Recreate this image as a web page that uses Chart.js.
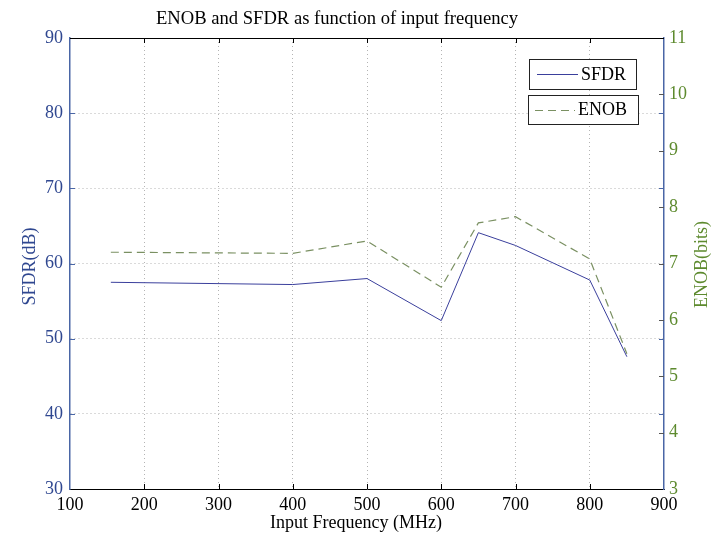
<!DOCTYPE html>
<html>
<head>
<meta charset="utf-8">
<script src="https://cdn.jsdelivr.net/npm/chart.js@4.4.0/dist/chart.umd.min.js"></script>
<style>
    html, body { margin: 0; padding: 0; background: #fff; }
    canvas { display: block; }
</style>
</head>
<body>
<canvas id="myChart" width="719" height="534"></canvas>
<script>
// values
const frequencies = [155, 400, 500, 600, 650, 700, 800, 850];
const sfdrValues = [57.5, 57.2, 58.0, 52.4, 64.1, 62.4, 57.8, 47.6];
const enobValues = [7.2, 7.18, 7.4, 6.58, 7.72, 7.83, 7.08, 5.4];

const freqTicks = [100, 200, 300, 400, 500, 600, 700, 800, 900];
const sfdrTicks = [30, 40, 50, 60, 70, 80, 90];
const enobTicks = [3, 4, 5, 6, 7, 8, 9, 10, 11];

const FONT = "'Liberation Serif', 'Times New Roman', serif";
const BLUE_AXIS = "#4a66a6";
const BLUE_TEXT = "#2f4790";
const GREEN_TEXT = "#5d8a2e";
const SFDR_COLOR = "#3a3f9c";
const ENOB_COLOR = "#7a9062";
const GRID_COLOR = "#b4b4b4";

const crisp = v => Math.round(v) + 0.5;

const framePlugin = {
    id: 'frame',
    afterDraw(chart) {
        const { ctx, chartArea: a, scales: { x, y, y1 } } = chart;
        const line = (x1, y1_, x2, y2) => {
            ctx.beginPath();
            ctx.moveTo(x1, y1_);
            ctx.lineTo(x2, y2);
            ctx.stroke();
        };
        ctx.save();
        ctx.lineWidth = 1;

        // top edge of the box
        ctx.strokeStyle = "#000";
        line(a.left, crisp(a.top), a.right, crisp(a.top));

        // inward ticks on x (bottom and top)
        freqTicks.slice(1, -1).forEach(v => {
            const px = crisp(x.getPixelForValue(v));
            line(px, a.bottom, px, a.bottom - 5);
            line(px, a.top, px, a.top + 5);
        });

        // left axis ticks, mirrored on the right side
        ctx.strokeStyle = BLUE_AXIS;
        sfdrTicks.slice(1, -1).forEach(v => {
            const py = crisp(y.getPixelForValue(v));
            line(a.left, py, a.left + 5, py);
            line(a.right, py, a.right - 5, py);
        });

        // right axis ticks
        ctx.strokeStyle = "#555";
        enobTicks.slice(1, -1).forEach(v => {
            const py = crisp(y1.getPixelForValue(v));
            line(a.right, py, a.right - 5, py);
        });

        // texts
        ctx.textAlign = "center";
        ctx.textBaseline = "middle";
        ctx.fillStyle = "#000";
        ctx.font = "18.6px " + FONT;
        ctx.fillText("ENOB and SFDR as function of input frequency", 337, 19);
        ctx.font = "18px " + FONT;
        ctx.fillText("Input Frequency (MHz)", 356, 523);

        ctx.save();
        ctx.translate(30, (a.top + a.bottom) / 2 + 3);
        ctx.rotate(-Math.PI / 2);
        ctx.fillStyle = BLUE_TEXT;
        ctx.fillText("SFDR(dB)", 0, 0);
        ctx.restore();

        ctx.save();
        ctx.translate(702, (a.top + a.bottom) / 2 + 1);
        ctx.rotate(-Math.PI / 2);
        ctx.fillStyle = GREEN_TEXT;
        ctx.fillText("ENOB(bits)", 0, 0);
        ctx.restore();

        // legend: two separate boxes
        const boxes = [
            { label: "SFDR", color: SFDR_COLOR, dash: [], left: a.right - 135, top: a.top + 21, w: 107, h: 30, lx: 8, lw: 41, tx: 52 },
            { label: "ENOB", color: ENOB_COLOR, dash: [8, 5], left: a.right - 136, top: a.top + 57, w: 110, h: 29, lx: 7, lw: 40, tx: 50 },
        ];
        boxes.forEach(b => {
            ctx.fillStyle = "#fff";
            ctx.fillRect(b.left, b.top, b.w, b.h);
            ctx.strokeStyle = "#222";
            ctx.setLineDash([]);
            ctx.strokeRect(crisp(b.left), crisp(b.top), b.w, b.h);
            const cy = crisp(b.top + b.h / 2);
            ctx.strokeStyle = b.color;
            ctx.setLineDash(b.dash);
            line(b.left + b.lx, cy, b.left + b.lx + b.lw, cy);
            ctx.setLineDash([]);
            ctx.fillStyle = "#000";
            ctx.textAlign = "left";
            ctx.fillText(b.label, b.left + b.tx, b.top + b.h / 2 + 1);
        });

        ctx.restore();
    }
};

const gridColor = edges => c => edges.includes(c.tick.value) ? "rgba(0,0,0,0)" : GRID_COLOR;

const ctx = document.getElementById("myChart").getContext("2d");

const config = {
    type: "line",
    data: {
        datasets: [
            {
                label: "SFDR",
                data: frequencies.map((f, i) => ({ x: f, y: sfdrValues[i] })),
                yAxisID: "y",
                borderColor: SFDR_COLOR,
                borderWidth: 1,
                pointRadius: 0,
                tension: 0,
            },
            {
                label: "ENOB",
                data: frequencies.map((f, i) => ({ x: f, y: enobValues[i] })),
                yAxisID: "y1",
                borderColor: ENOB_COLOR,
                borderWidth: 1.2,
                borderDash: [8, 5],
                pointRadius: 0,
                tension: 0,
            },
        ],
    },
    options: {
        responsive: false,
        animation: false,
        devicePixelRatio: 1,
        layout: { padding: { top: 38, left: 0, right: 0, bottom: 0 } },
        plugins: {
            legend: { display: false },
            title: { display: false },
            tooltip: { enabled: false },
        },
        scales: {
            x: {
                type: "linear",
                min: 100,
                max: 900,
                afterBuildTicks: s => { s.ticks = freqTicks.map(v => ({ value: v })); },
                afterFit: s => { s.height = 45; },
                ticks: {
                    padding: 5,
                    maxRotation: 0,
                    color: "#000",
                    font: { family: FONT, size: 18 },
                },
                grid: { color: gridColor([100, 900]), drawTicks: false, lineWidth: 1 },
                border: { color: "#000", width: 1, dash: [1, 3] },
            },
            y: {
                position: "left",
                min: 30,
                max: 90,
                afterBuildTicks: s => { s.ticks = sfdrTicks.map(v => ({ value: v })); },
                afterFit: s => { s.width = 70; },
                ticks: {
                    padding: 7,
                    color: BLUE_TEXT,
                    font: { family: FONT, size: 18 },
                },
                grid: { color: gridColor([30, 90]), drawTicks: false, lineWidth: 1 },
                border: { color: BLUE_AXIS, width: 1.5, dash: [1, 3] },
            },
            y1: {
                position: "right",
                min: 3,
                max: 11,
                afterBuildTicks: s => { s.ticks = enobTicks.map(v => ({ value: v })); },
                afterFit: s => { s.width = 55; },
                ticks: {
                    padding: 5,
                    color: GREEN_TEXT,
                    font: { family: FONT, size: 18 },
                },
                grid: { drawOnChartArea: false, drawTicks: false },
                border: { color: BLUE_AXIS, width: 1.5 },
            },
        },
    },
    plugins: [framePlugin],
};

new Chart(ctx, config);
</script>
</body>
</html>
